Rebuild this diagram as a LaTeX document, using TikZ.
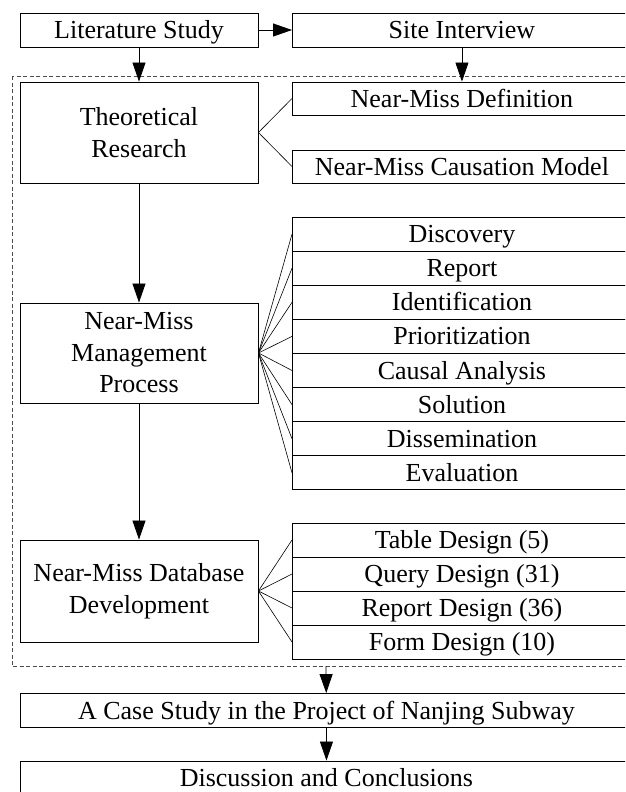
\documentclass[tikz,border=0pt]{standalone}
\usepackage{fontspec}
\setmainfont{Liberation Serif}
\usepackage{tikz}
\usetikzlibrary{positioning,arrows.meta}

\tikzset{
  lbox/.style={draw,line width=0.9pt,minimum width=238pt,align=center,inner sep=0pt},
  rbox/.style={draw,line width=0.9pt,minimum width=339pt,minimum height=34pt,inner sep=0pt,
    text height=20.5pt,text depth=3.5pt,anchor=west},
  wbox/.style={draw,line width=0.9pt,minimum width=612pt,minimum height=34pt,inner sep=0pt,
    text height=20.5pt,text depth=3.5pt,anchor=west},
  flow/.style={line width=0.8pt,-{Triangle[length=19pt,width=13pt]}},
  fan/.style={line width=0.6pt}
}

\begin{document}
\begin{tikzpicture}[x=1pt,y=-1pt,font=\fontsize{26}{31.5}\selectfont]
\clip (0,0) rectangle (625,792);
% Outer frame
\draw[dashed,dash pattern=on 4pt off 2.5pt,black!70,line width=0.8pt] (12,76) rectangle (645,666);

% Top row
\node[lbox,minimum height=34pt,text height=20.5pt,text depth=3.5pt] (lit) at (139,30) {Literature Study};
\node[rbox] (site) at (292,30) {Site Interview};

% Theoretical research
\node[lbox,minimum height=101pt] (theo) at (139,132.5) {Theoretical\\Research};
\node[rbox,minimum height=33pt] (def) at (292,98.5) {Near-Miss Definition};
\node[rbox,minimum height=33pt] (caus) at (292,166.5) {Near-Miss Causation Model};

% Management process
\node[lbox,minimum height=100pt] (mgmt) at (139,353) {Near-Miss\\Management\\Process};
\node[rbox,minimum height=34.1pt] (disc1) at (292,234.1) {Discovery};
\node[rbox,minimum height=34.1pt] (rep) at (292,268.2) {Report};
\node[rbox,minimum height=34.1pt] (ident) at (292,302.3) {Identification};
\node[rbox,minimum height=34.1pt] (prio) at (292,336.4) {Prioritization};
\node[rbox,minimum height=34.1pt] (causal) at (292,370.5) {Causal Analysis};
\node[rbox,minimum height=34.1pt] (sol) at (292,404.6) {Solution};
\node[rbox,minimum height=34.1pt] (dissem) at (292,438.7) {Dissemination};
\node[rbox,minimum height=34.1pt] (evalu) at (292,472.8) {Evaluation};

% Database development
\node[lbox,minimum height=102pt] (db) at (139,591) {Near-Miss Database\\Development};
\node[rbox] (table) at (292,540) {Table Design (5)};
\node[rbox] (query) at (292,574) {Query Design (31)};
\node[rbox] (report) at (292,608) {Report Design (36)};
\node[rbox] (form) at (292,642) {Form Design (10)};

% Bottom row
\coordinate (frame) at (326,666);
\node[wbox] (case) at (20,710.5) {A Case Study in the Project of Nanjing Subway};
\node[wbox] (concl) at (20,778) {Discussion and Conclusions};

% Arrows
\draw[flow] (lit) -- (site);
\draw[flow] (lit) -- (theo);
\draw[flow] (site) -- (def);
\draw[flow] (theo) -- (mgmt);
\draw[flow] (mgmt) -- (db);
\draw[flow] (frame) -- (case);
\draw[flow] (case) -- (concl);

% Fans
\draw[fan] (theo.east) -- (def.west);
\draw[fan] (theo.east) -- (caus.west);
\draw[fan] (mgmt.east) -- (disc1.west);
\draw[fan] (mgmt.east) -- (rep.west);
\draw[fan] (mgmt.east) -- (ident.west);
\draw[fan] (mgmt.east) -- (prio.west);
\draw[fan] (mgmt.east) -- (causal.west);
\draw[fan] (mgmt.east) -- (sol.west);
\draw[fan] (mgmt.east) -- (dissem.west);
\draw[fan] (mgmt.east) -- (evalu.west);
\draw[fan] (db.east) -- (table.west);
\draw[fan] (db.east) -- (query.west);
\draw[fan] (db.east) -- (report.west);
\draw[fan] (db.east) -- (form.west);
\end{tikzpicture}
\end{document}
